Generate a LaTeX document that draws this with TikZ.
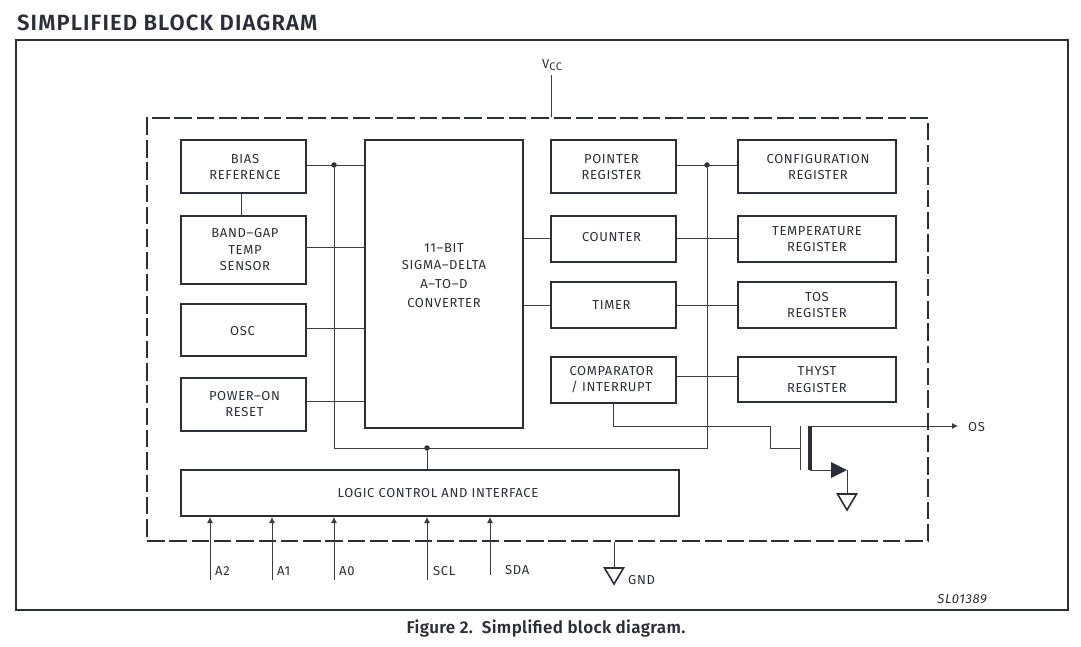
\documentclass[tikz,border=0pt]{standalone}
\usepackage{fontspec}
\setmainfont{Fira Sans}
\newfontfamily\lblfont[LetterSpace=5]{Fira Sans}
\newfontfamily\headfont[LetterSpace=5]{Fira Sans SemiBold}
\newfontfamily\capfont[LetterSpace=2]{Fira Sans SemiBold}
\newfontfamily\reffont[LetterSpace=5]{Fira Sans Italic}
\usetikzlibrary{arrows.meta,calc}
\definecolor{ink}{HTML}{2B2E36}
\definecolor{wire}{HTML}{3A3D44}
\tikzset{
  x=1pt,y=-1pt,
  blk/.style={draw=ink,line width=1.5pt,inner sep=0pt},
  blktxt/.style={inner sep=0pt,align=center,font=\lblfont\fontsize{13}{16.5}\selectfont,text=ink},
  wirel/.style={draw=wire,line width=0.8pt},
  sig/.style={wirel,-{Latex[length=6pt,width=6pt]}},
  lbl/.style={font=\lblfont\fontsize{13}{14}\selectfont,text=ink,inner sep=0pt,anchor=west},
  junct/.style={circle,fill=ink,inner sep=0pt,minimum size=5.5pt},
  gnd/.style={draw=ink,line width=1.6pt,fill=white,line join=miter},
}
% name, x1, y1, x2, y2, text-offset (dx,dy), text
\newcommand{\blkbox}[7]{\node[blk,minimum width=#4-#2,minimum height=#5-#3] (#1) at ({(#2+#4)/2},{(#3+#5)/2}) {};
  \node[blktxt] (#1t) at ($(#1)+(#6)$) {#7};}
\begin{document}
\begin{tikzpicture}
\useasboundingbox (0,0) rectangle (1081,646);
\node[font=\headfont\fontsize{22}{24}\selectfont,text=ink,inner sep=0pt,anchor=west] (title) at (17,23) {SIMPLIFIED BLOCK DIAGRAM};
\node[draw=ink,line width=1.6pt,minimum width=1052,minimum height=570,inner sep=0pt] (frame) at (542,325) {};
\node[draw=ink,line width=1.8pt,dash pattern=on 17.5pt off 4.8pt,minimum width=781,minimum height=423,inner sep=0pt] (chip) at (537.5,329.5) {};
\node[font=\capfont\fontsize{17}{18}\selectfont,text=ink,inner sep=0pt] (cap) at (546,629) {Figure 2.\ \ Simplified block diagram.};
\blkbox{bias}{181}{140}{306}{193}{1.5,0.5}{BIAS\\REFERENCE}
\blkbox{gap}{181}{216}{306}{284}{1.5,0}{BAND–GAP\\TEMP\\SENSOR}
\blkbox{osc}{181}{304}{306}{356}{-1,1}{OSC}
\blkbox{por}{181}{378}{306}{431}{1,-0.5}{POWER–ON\\RESET}
\blkbox{adc}{365}{140}{523}{428}{0,-8.5}{11–BIT\\[0.5pt]SIGMA–DELTA\\[2.5pt]A–TO–D\\[2.5pt]CONVERTER}
\blkbox{ptr}{551}{140}{676}{193}{-2,0.5}{POINTER\\REGISTER}
\blkbox{cnt}{551}{216}{676}{262}{-2,-2}{COUNTER}
\blkbox{tmr}{551}{282}{676}{328}{-2,0}{TIMER}
\blkbox{cmp}{551}{357}{676}{403}{-2,-0.5}{COMPARATOR\\/ INTERRUPT}
\blkbox{cfg}{738}{140}{896}{193}{1,0.5}{CONFIGURATION\\REGISTER}
\blkbox{tmp}{738}{216}{896}{262}{0,0}{TEMPERATURE\\REGISTER}
\blkbox{tos}{738}{282}{896}{328}{0,0}{TOS\\REGISTER}
\blkbox{thy}{738}{357}{896}{402}{0,0}{THYST\\REGISTER}
\blkbox{log}{181}{470}{679}{516}{8,0}{LOGIC CONTROL AND INTERFACE}
% routing coordinates
\coordinate (yb) at (0,165);
\coordinate (yg) at (0,247);
\coordinate (yo) at (0,328);
\coordinate (yp) at (0,401);
\coordinate (yc) at (0,238);
\coordinate (yt) at (0,305);
\coordinate (yh) at (0,376);
\coordinate (ybus) at (0,448);
\coordinate (xl) at (334,0);
\coordinate (xr) at (707,0);
\coordinate (xg) at (241,0);
\coordinate (xc) at (613,0);
\node[junct] (jl) at (xl |- yb) {};
\node[junct] (jr) at (xr |- yb) {};
\node[junct] (jb) at (427,448) {};
\coordinate (bl) at (xl |- ybus);
\coordinate (br) at (xr |- ybus);
\draw[wirel] (bias.east |- yb) -- (adc.west |- yb);
\draw[wirel] (jl) -- (bl) -- (br) -- (jr);
\draw[wirel] (ptr.east |- yb) -- (cfg.west |- yb);
\draw[wirel] (jb) -- (jb |- log.north);
\draw[wirel] (xg |- bias.south) -- (xg |- gap.north);
\draw[wirel] (gap.east |- yg) -- (adc.west |- yg);
\draw[wirel] (osc.east |- yo) -- (adc.west |- yo);
\draw[wirel] (por.east |- yp) -- (adc.west |- yp);
\draw[wirel] (adc.east |- yc) -- (cnt.west |- yc);
\draw[wirel] (adc.east |- yt) -- (tmr.west |- yt);
\draw[wirel] (cnt.east |- yc) -- (tmp.west |- yc);
\draw[wirel] (tmr.east |- yt) -- (tos.west |- yt);
\draw[wirel] (cmp.east |- yh) -- (thy.west |- yh);
% VCC
\node[lbl,anchor=base west] (vcc) at (542,68) {V\raisebox{-2.5pt}{\fontsize{11}{12}\selectfont CC}};
\coordinate (vt) at (551.5,75);
\draw[wirel] (vt) -- (vt |- chip.north);
% MOSFET
\coordinate (gt) at (800,426);
\coordinate (gb) at (800,470);
\coordinate (dr) at (810,426);
\coordinate (sr) at (810,470);
\coordinate (tip) at (847,470);
\coordinate (k1) at (770,426);
\coordinate (k2) at (770,448);
\coordinate (k3) at (800,448);
\draw[wirel] (xc |- cmp.south) |- (k1) -- (k2) -- (k3);
\draw[wirel] (gt) -- (gb);
\draw[ink,line width=4pt] (dr) -- (sr);
\node[lbl] (os) at (968,427) {OS};
\coordinate (ose) at (958,426);
\draw[sig] (dr) -- (ose);
\coordinate (sa) at (831,470);
\draw[wirel] (sr) -- (sa);
\fill[ink] (831,462) -- (tip) -- (831,478) -- cycle;
\coordinate (gn) at (847,494);
\draw[wirel] (tip) -- (gn);
\draw[gnd] (837.5,494) -- (856.5,494) -- (847,510) -- cycle;
% inputs
\coordinate (yi) at (0,517);
\foreach \nm/\x/\bot in {atwo/210/580,aone/272/580,azero/334/580,scl/427/580,sda/490/575}{
  \coordinate (\nm s) at (\x,\bot);
  \draw[sig] (\nm s) -- (\nm s |- yi);
}
\node[lbl] (la2) at (215,571) {A2};
\node[lbl] (la1) at (277,571) {A1};
\node[lbl] (la0) at (339,571) {A0};
\node[lbl] (lscl) at (433,571) {SCL};
\node[lbl] (lsda) at (505,570) {SDA};
% GND
\coordinate (gg) at (614,568);
\draw[wirel] (gg |- chip.south) -- (gg);
\draw[gnd] (604.5,568) -- (623.5,568) -- (614,584) -- cycle;
\node[lbl] (lgnd) at (628,580) {GND};
\node[font=\reffont\fontsize{13}{14}\selectfont,text=ink,inner sep=0pt,anchor=east] (ref) at (987,599) {SL01389};
\end{tikzpicture}
\end{document}
